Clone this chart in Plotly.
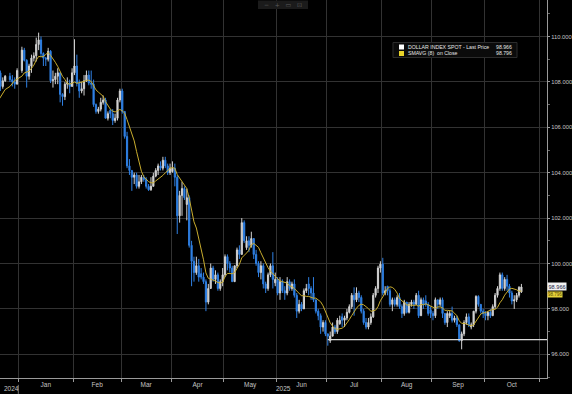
import pandas as pd
import plotly.graph_objects as go

# ---------------- data ----------------
dates = [
    # Dec 2024
    "2024-12-10", "2024-12-11", "2024-12-12", "2024-12-13", "2024-12-16", "2024-12-17", "2024-12-18", "2024-12-19",
    "2024-12-20", "2024-12-23", "2024-12-24", "2024-12-26", "2024-12-27", "2024-12-30", "2024-12-31",
    # Jan 2025
    "2025-01-02", "2025-01-03", "2025-01-06", "2025-01-07", "2025-01-08", "2025-01-09", "2025-01-10", "2025-01-13",
    "2025-01-14", "2025-01-15", "2025-01-16", "2025-01-17", "2025-01-20", "2025-01-21", "2025-01-22", "2025-01-23",
    "2025-01-24", "2025-01-27", "2025-01-28", "2025-01-29", "2025-01-30", "2025-01-31",
    # Feb
    "2025-02-03", "2025-02-04", "2025-02-05", "2025-02-06", "2025-02-07", "2025-02-10", "2025-02-11", "2025-02-12",
    "2025-02-13", "2025-02-14", "2025-02-17", "2025-02-18", "2025-02-19", "2025-02-20", "2025-02-21", "2025-02-24",
    "2025-02-25", "2025-02-26", "2025-02-27", "2025-02-28",
    # Mar
    "2025-03-03", "2025-03-04", "2025-03-05", "2025-03-06", "2025-03-07", "2025-03-10", "2025-03-11", "2025-03-12",
    "2025-03-13", "2025-03-14", "2025-03-17", "2025-03-18", "2025-03-19", "2025-03-20", "2025-03-21", "2025-03-24",
    "2025-03-25", "2025-03-26", "2025-03-27", "2025-03-28", "2025-03-31",
    # Apr
    "2025-04-01", "2025-04-02", "2025-04-03", "2025-04-04", "2025-04-07", "2025-04-08", "2025-04-09", "2025-04-10",
    "2025-04-11", "2025-04-14", "2025-04-15", "2025-04-16", "2025-04-17", "2025-04-18", "2025-04-21", "2025-04-22",
    "2025-04-23", "2025-04-24", "2025-04-25", "2025-04-28", "2025-04-29", "2025-04-30",
    # May
    "2025-05-01", "2025-05-02", "2025-05-05", "2025-05-06", "2025-05-07", "2025-05-08", "2025-05-09", "2025-05-12",
    "2025-05-13", "2025-05-14", "2025-05-15", "2025-05-16", "2025-05-19", "2025-05-20", "2025-05-21", "2025-05-22",
    "2025-05-23", "2025-05-26", "2025-05-27", "2025-05-28", "2025-05-29", "2025-05-30",
    # Jun
    "2025-06-02", "2025-06-03", "2025-06-04", "2025-06-05", "2025-06-06", "2025-06-09", "2025-06-10", "2025-06-11",
    "2025-06-12", "2025-06-13", "2025-06-16", "2025-06-17", "2025-06-18", "2025-06-19", "2025-06-20", "2025-06-23",
    "2025-06-24", "2025-06-25", "2025-06-26", "2025-06-27", "2025-06-30",
    # Jul
    "2025-07-01", "2025-07-02", "2025-07-03", "2025-07-04", "2025-07-07", "2025-07-08", "2025-07-09", "2025-07-10",
    "2025-07-11", "2025-07-14", "2025-07-15", "2025-07-16", "2025-07-17", "2025-07-18", "2025-07-21", "2025-07-22",
    "2025-07-23", "2025-07-24", "2025-07-25", "2025-07-28", "2025-07-29", "2025-07-30", "2025-07-31",
    # Aug
    "2025-08-01", "2025-08-04", "2025-08-05", "2025-08-06", "2025-08-07", "2025-08-08", "2025-08-11", "2025-08-12",
    "2025-08-13", "2025-08-14", "2025-08-15", "2025-08-18", "2025-08-19", "2025-08-20", "2025-08-21", "2025-08-22",
    "2025-08-25", "2025-08-26", "2025-08-27", "2025-08-28", "2025-08-29",
    # Sep
    "2025-09-01", "2025-09-02", "2025-09-03", "2025-09-04", "2025-09-05", "2025-09-08", "2025-09-09", "2025-09-10",
    "2025-09-11", "2025-09-12", "2025-09-15", "2025-09-16", "2025-09-17", "2025-09-18", "2025-09-19", "2025-09-22",
    "2025-09-23", "2025-09-24", "2025-09-25", "2025-09-26", "2025-09-29", "2025-09-30",
    # Oct
    "2025-10-01", "2025-10-02", "2025-10-03", "2025-10-06", "2025-10-07", "2025-10-08", "2025-10-09", "2025-10-10",
    "2025-10-13", "2025-10-14", "2025-10-15", "2025-10-16", "2025-10-17", "2025-10-20", "2025-10-21", "2025-10-22",
]

opens = [
    106.1, 106.4, 106.7, 106.95, 107.0, 106.85, 106.95, 108.0, 108.4, 107.8, 108.05, 108.25, 108.1, 108.0, 107.9,
    108.5, 109.4, 108.95, 108.25, 108.7, 109.05, 109.15, 109.65, 109.85, 109.25, 109.05, 109.0, 109.35, 108.05, 108.1,
    108.25, 108.4, 107.45, 107.35, 107.9, 107.95, 107.8,
    108.4, 108.7, 107.95, 107.6, 107.7, 108.05, 108.3, 107.95, 107.9, 107.0, 106.7, 106.8, 107.1, 107.2, 106.4, 106.75,
    106.6, 106.3, 106.4, 107.2,
    107.6, 106.7, 105.6, 104.3, 104.1, 103.8, 103.9, 103.4, 103.6, 103.8, 103.7, 103.4, 103.25, 103.4, 103.85, 104.1,
    104.3, 104.2, 104.55, 104.3, 104.0,
    104.05, 104.2, 103.8, 102.1, 103.0, 103.3, 102.6, 102.9, 100.8, 100.1, 99.6, 99.9, 99.55, 99.4, 99.2, 98.3,
    98.9, 99.8, 99.3, 99.5, 98.9, 99.2,
    99.5, 100.3, 100.0, 99.8, 99.2, 99.9, 100.6, 100.4, 101.8, 100.7, 101.0, 100.8, 101.1, 100.4, 100.0, 99.6,
    99.9, 99.1, 98.9, 99.5, 99.9, 99.15,
    99.3, 98.7, 99.2, 98.8, 98.7, 99.2, 98.9, 99.1, 98.6, 97.9, 98.2, 98.0, 98.8, 99.1, 98.9, 98.7,
    98.4, 97.9, 97.7, 97.2, 97.4,
    96.9, 96.6, 96.8, 97.2, 97.0, 97.35, 97.65, 97.5, 97.6, 97.85, 98.1, 98.6, 98.4, 98.7, 98.5, 97.9,
    97.4, 97.2, 97.4, 97.65, 98.6, 98.9, 99.8,
    99.97, 98.7, 99.0, 98.8, 98.2, 98.4, 98.2, 98.5, 98.1, 97.8, 98.3, 97.85, 98.2, 98.3, 98.2, 98.6,
    97.7, 98.4, 98.35, 98.2, 97.95,
    97.8, 97.7, 98.4, 98.2, 98.4, 97.8, 97.4, 97.7, 97.8, 97.5, 97.6, 97.3, 96.6, 96.9, 97.4, 97.65,
    97.2, 97.3, 97.9, 98.55, 98.2, 97.9,
    97.8, 97.7, 97.85, 97.7, 98.1, 98.6, 98.9, 99.5, 98.9, 99.3, 99.0, 98.7, 98.35, 98.4, 98.6, 98.75,
]

highs = [
    106.6, 106.8, 107.1, 107.2, 107.0, 107.0, 108.1, 108.5, 108.5, 108.2, 108.3, 108.4, 108.3, 108.2, 108.6,
    109.55, 109.5, 109.0, 108.8, 109.2, 109.3, 109.95, 110.17, 110.0, 109.3, 109.1, 109.5, 109.4, 108.5, 108.4,
    108.6, 108.4, 107.5, 108.0, 108.2, 108.1, 108.6,
    109.88, 109.2, 108.1, 108.0, 108.3, 108.5, 108.5, 108.5, 108.1, 107.05, 106.9, 107.3, 107.4, 107.3, 106.7, 106.8,
    106.8, 106.6, 107.3, 107.7,
    107.7, 106.7, 105.8, 104.6, 104.1, 104.0, 104.0, 103.9, 103.9, 103.9, 103.8, 103.5, 103.8, 104.0, 104.2, 104.4,
    104.5, 104.7, 104.7, 104.4, 104.4,
    104.5, 104.4, 103.9, 103.2, 103.6, 103.4, 103.3, 103.0, 101.0, 100.3, 100.3, 100.2, 99.8, 99.6, 99.3, 99.1,
    100.0, 99.9, 99.7, 99.6, 99.3, 99.8,
    100.4, 100.4, 100.1, 99.9, 99.9, 100.7, 100.8, 102.0, 101.9, 101.2, 101.2, 101.4, 101.1, 100.6, 100.1, 100.1,
    100.0, 99.2, 99.6, 100.0, 100.5, 99.6,
    99.4, 99.4, 99.3, 99.0, 99.4, 99.3, 99.2, 99.3, 98.7, 98.4, 98.3, 98.9, 99.1, 99.4, 99.0, 99.4,
    98.4, 98.0, 97.8, 97.5, 97.5,
    96.9, 97.0, 97.4, 97.3, 97.6, 97.7, 97.8, 97.7, 98.0, 98.2, 98.7, 98.95, 98.95, 98.8, 98.6, 98.0,
    97.6, 97.6, 97.8, 98.7, 99.0, 99.9, 100.1,
    100.25, 99.0, 99.0, 98.9, 98.5, 98.5, 98.6, 98.7, 98.2, 98.4, 98.3, 98.3, 98.4, 98.4, 98.7, 98.8,
    98.5, 98.5, 98.6, 98.3, 98.1,
    97.9, 98.5, 98.4, 98.5, 98.5, 97.8, 97.9, 97.9, 98.1, 97.7, 97.7, 97.3, 97.0, 97.5, 97.8, 97.8,
    97.4, 97.9, 98.6, 98.6, 98.2, 98.0,
    97.9, 97.9, 98.0, 98.2, 98.7, 99.0, 99.6, 99.6, 99.4, 99.5, 99.1, 98.8, 98.6, 98.7, 99.0, 99.1,
]

lows = [
    106.0, 106.3, 106.5, 106.8, 106.7, 106.8, 106.9, 108.0, 107.6, 107.7, 108.0, 108.0, 107.8, 107.7, 107.9,
    108.4, 108.9, 107.75, 108.1, 108.4, 108.9, 108.9, 109.4, 109.1, 108.7, 108.7, 108.9, 107.95, 107.75, 107.9,
    107.9, 107.1, 106.95, 107.2, 107.7, 107.5, 107.8,
    108.3, 107.8, 107.3, 107.5, 107.4, 108.0, 107.85, 107.7, 106.9, 106.6, 106.6, 106.7, 107.0, 106.4, 106.3, 106.4,
    106.1, 106.2, 106.3, 107.1,
    106.6, 105.5, 104.2, 103.9, 103.2, 103.5, 103.3, 103.3, 103.5, 103.6, 103.3, 103.2, 103.2, 103.4, 103.8, 103.9,
    104.1, 104.1, 104.2, 103.9, 103.9,
    104.0, 103.4, 101.3, 101.8, 102.1, 102.8, 101.9, 100.7, 99.0, 99.2, 99.5, 99.2, 99.3, 99.1, 97.9, 98.2,
    98.9, 99.2, 99.1, 98.8, 98.8, 99.0,
    99.4, 99.7, 99.6, 99.2, 99.2, 99.8, 100.2, 100.4, 100.9, 100.6, 100.5, 100.7, 100.2, 99.9, 99.4, 99.3,
    98.9, 98.7, 98.8, 99.4, 98.9, 99.0,
    98.6, 98.4, 98.7, 98.4, 98.6, 98.8, 98.8, 98.5, 97.6, 97.8, 97.9, 98.0, 98.7, 98.6, 98.4, 98.3,
    97.8, 97.5, 96.9, 97.0, 96.8,
    96.38, 96.5, 96.8, 96.9, 96.9, 97.3, 97.2, 97.2, 97.5, 97.8, 98.0, 97.7, 98.3, 98.3, 97.8, 97.3,
    97.1, 97.1, 97.3, 97.6, 98.5, 98.7, 99.6,
    98.6, 98.6, 98.6, 98.1, 97.9, 98.1, 98.1, 98.0, 97.6, 97.7, 97.8, 97.8, 98.1, 98.0, 98.2, 97.6,
    97.7, 98.0, 98.1, 97.7, 97.6,
    97.5, 97.6, 98.0, 98.1, 97.6, 97.3, 97.2, 97.6, 97.4, 97.4, 97.2, 96.55, 96.22, 96.8, 97.3, 97.2,
    97.1, 97.2, 97.8, 98.1, 97.8, 97.6,
    97.5, 97.5, 97.6, 97.7, 98.0, 98.5, 98.8, 98.8, 98.8, 98.8, 98.5, 98.2, 98.0, 98.3, 98.5, 98.7,
]

closes = [
    106.4, 106.7, 106.95, 107.0, 106.85, 106.95, 108.0, 108.4, 107.8, 108.05, 108.25, 108.1, 108.0, 107.9, 108.5,
    109.4, 108.95, 108.25, 108.7, 109.05, 109.15, 109.65, 109.85, 109.25, 109.05, 109.0, 109.35, 108.05, 108.1,
    108.25, 108.4, 107.45, 107.35, 107.9, 107.95, 107.8, 108.4,
    108.7, 107.95, 107.6, 107.7, 108.05, 108.3, 107.95, 107.9, 107.0, 106.7, 106.8, 107.1, 107.2, 106.4, 106.6, 106.6,
    106.3, 106.4, 107.2, 107.6,
    106.7, 105.6, 104.3, 104.1, 103.8, 103.9, 103.4, 103.6, 103.8, 103.7, 103.4, 103.25, 103.4, 103.85, 104.1, 104.3,
    104.2, 104.55, 104.3, 104.0, 104.2,
    104.2, 103.8, 102.1, 103.0, 103.3, 102.9, 102.9, 100.8, 100.1, 99.6, 99.9, 99.4, 99.4, 99.2, 98.3, 98.9,
    99.8, 99.3, 99.5, 98.9, 99.2, 99.5,
    100.3, 100.0, 99.8, 99.2, 99.9, 100.6, 100.4, 101.8, 101.0, 101.0, 100.8, 101.1, 100.4, 100.0, 99.6, 99.9,
    99.1, 98.9, 99.5, 99.9, 99.3, 99.3,
    98.7, 99.2, 98.8, 98.7, 99.2, 98.9, 99.1, 98.6, 97.9, 98.2, 98.0, 98.8, 98.9, 98.9, 98.7, 98.4,
    97.9, 97.7, 97.2, 97.4, 96.9,
    96.8, 96.8, 97.2, 97.0, 97.5, 97.5, 97.5, 97.6, 97.85, 98.1, 98.6, 98.4, 98.7, 98.5, 97.9, 97.4,
    97.2, 97.4, 97.65, 98.6, 98.9, 99.8, 99.97,
    98.7, 98.8, 98.8, 98.2, 98.4, 98.2, 98.5, 98.1, 97.8, 98.3, 97.85, 98.2, 98.3, 98.2, 98.6, 97.7,
    98.4, 98.2, 98.2, 97.8, 97.8,
    97.7, 98.4, 98.2, 98.4, 97.8, 97.4, 97.8, 97.8, 97.5, 97.6, 97.3, 96.6, 96.9, 97.4, 97.65, 97.3,
    97.3, 97.9, 98.55, 98.2, 97.9, 97.8,
    97.7, 97.85, 97.7, 98.1, 98.6, 98.9, 99.5, 98.9, 99.3, 99.0, 98.7, 98.35, 98.4, 98.6, 98.95, 98.966,
]

sma_window = 8
support_level = 96.65
support_start = "2025-07-01 12:00"
last_price_text = "98.966"
sma_last_text = "98.796"
series_name = "DOLLAR INDEX SPOT - Last Price"
sma_name = "SMAVG (8)  on Close"

y_ticks = [96, 98, 100, 102, 104, 106, 108, 110]
month_starts = ["2025-01-01", "2025-02-03", "2025-03-03", "2025-04-01", "2025-05-01", "2025-06-02",
                "2025-07-01", "2025-08-01", "2025-09-01", "2025-10-01", "2025-11-03"]
month_labels = ["Jan", "Feb", "Mar", "Apr", "May", "Jun", "Jul", "Aug", "Sep", "Oct"]
month_label_pos = ["2025-01-16 12:00", "2025-02-17 00:00", "2025-03-17 12:00", "2025-04-16 00:00",
                   "2025-05-16 00:00", "2025-06-16 12:00", "2025-07-16 12:00", "2025-08-15 12:00",
                   "2025-09-16 00:00", "2025-10-16 12:00"]
x_range = ["2024-12-20 08:10", "2025-11-06 05:00"]
y_range = [94.956, 111.608]

# ---------------- styling ----------------
UP = "#d2d2d2"
DOWN = "#2f80e4"
SMA_COL = "#c9ad2e"
GRID = "#323232"
AXIS = "#9a9a9a"
TXT = "#c4c4c4"
FONT = "Liberation Sans"

x = pd.to_datetime(pd.Series(dates)) + pd.Timedelta(hours=12)
sma = pd.Series(closes).rolling(sma_window).mean()

fig = go.Figure()
fig.add_trace(go.Candlestick(
    x=x, open=opens, high=highs, low=lows, close=closes,
    increasing=dict(line=dict(color=UP, width=1), fillcolor=UP),
    decreasing=dict(line=dict(color=DOWN, width=1), fillcolor=DOWN),
    whiskerwidth=0, showlegend=False, hoverinfo="skip",
))
fig.add_trace(go.Scatter(
    x=x, y=sma, mode="lines", line=dict(color=SMA_COL, width=1),
    showlegend=False, hoverinfo="skip",
))
fig.add_trace(go.Scatter(
    x=[support_start, x_range[1]], y=[support_level, support_level], mode="lines",
    line=dict(color="#d9d9d9", width=1.2), showlegend=False, hoverinfo="skip",
))

W, H = 572, 394
ML, MR, MT, MB = 0, 25, 0, 16
PW, PH = W - ML - MR, H - MT - MB


def px(xp):
    return xp / PW


def py(yp):
    return 1 - yp / PH


shapes = [
    # legend box
    dict(type="rect", xref="paper", yref="paper", x0=px(393), x1=px(517), y0=py(57.5), y1=py(42.5),
         fillcolor="#0b0b0b", line=dict(color="#2c2c2c", width=1), layer="above"),
    dict(type="rect", xref="paper", yref="paper", x0=px(399), x1=px(404), y0=py(49.5), y1=py(44.5),
         fillcolor="#ffffff", line=dict(width=0), layer="above"),
    dict(type="rect", xref="paper", yref="paper", x0=px(399), x1=px(404), y0=py(56), y1=py(51),
         fillcolor="#e8d32a", line=dict(width=0), layer="above"),
    # toolbar at the top
    dict(type="rect", xref="paper", yref="paper", x0=px(258), x1=px(308), y0=py(9), y1=py(0.5),
         fillcolor="#1b1b1b", line=dict(width=0), layer="above"),
    # year separator tick
    dict(type="line", xref="x", yref="paper", x0="2025-01-01", x1="2025-01-01", y0=-0.018, y1=-0.042,
         line=dict(color="#777777", width=1)),
]

annotations = [
    dict(xref="paper", yref="paper", x=px(406), y=py(46.8), text=series_name, showarrow=False,
         xanchor="left", yanchor="middle", font=dict(family=FONT, size=5.2, color="#e6e6e6")),
    dict(xref="paper", yref="paper", x=px(514), y=py(46.8), text=last_price_text, showarrow=False,
         xanchor="right", yanchor="middle", font=dict(family=FONT, size=5.2, color="#e6e6e6")),
    dict(xref="paper", yref="paper", x=px(406), y=py(53.4), text=sma_name, showarrow=False,
         xanchor="left", yanchor="middle", font=dict(family=FONT, size=5.2, color="#e6e6e6")),
    dict(xref="paper", yref="paper", x=px(514), y=py(53.4), text=sma_last_text, showarrow=False,
         xanchor="right", yanchor="middle", font=dict(family=FONT, size=5.2, color="#e6e6e6")),
    # price tags on the right axis (yellow tag sits just under the white one)
    dict(xref="paper", yref="y", x=1.0, y=float(sma_last_text), text=sma_last_text, showarrow=False,
         xanchor="left", yanchor="top", bgcolor="#e6d23a", borderpad=0,
         font=dict(family=FONT, size=4.5, color="#5a4a00")),
    dict(xref="paper", yref="y", x=1.0, y=float(last_price_text), text=last_price_text, showarrow=False,
         xanchor="left", yanchor="middle", bgcolor="#f2f2f2", borderpad=0.5,
         font=dict(family=FONT, size=5.6, color="#222244")),
    # toolbar glyphs
    dict(xref="paper", yref="paper", x=px(283), y=py(4.8), text="−   +   ▭   ⊡", showarrow=False,
         xanchor="center", yanchor="middle", font=dict(family="DejaVu Sans", size=6, color="#5c5c5c")),
    # years
    dict(xref="paper", yref="paper", x=px(2), y=py(388.5), text="2024", showarrow=False,
         xanchor="left", yanchor="middle", font=dict(family=FONT, size=6.5, color=TXT)),
    dict(xref="paper", yref="paper", x=px(283), y=py(388.5), text="2025", showarrow=False,
         xanchor="center", yanchor="middle", font=dict(family=FONT, size=6.5, color=TXT)),
]

fig.update_layout(
    width=W, height=H,
    margin=dict(l=ML, r=MR, t=MT, b=MB, autoexpand=False),
    paper_bgcolor="#000000", plot_bgcolor="#000000",
    showlegend=False,
    shapes=shapes, annotations=annotations,
    xaxis=dict(
        type="date", range=x_range,
        rangebreaks=[dict(bounds=["sat", "mon"])],
        rangeslider=dict(visible=False),
        tickmode="array", tickvals=month_label_pos, ticktext=month_labels,
        ticks="", showgrid=False, ticklabelstandoff=0,
        tickfont=dict(family=FONT, size=6.5, color=TXT),
        showline=True, linecolor=AXIS, linewidth=1,
        minor=dict(tickmode="array", tickvals=month_starts, showgrid=True, gridcolor=GRID, gridwidth=1,
                   ticks="outside", ticklen=3, tickcolor=AXIS),
        zeroline=False, fixedrange=True,
    ),
    yaxis=dict(
        side="right", range=y_range,
        tickmode="array", tickvals=y_ticks, tickformat=".3f",
        ticks="outside", ticklen=2, tickcolor=AXIS, ticklabelstandoff=0,
        tickfont=dict(family=FONT, size=5.8, color=TXT),
        showgrid=True, gridcolor=GRID, gridwidth=1,
        showline=True, linecolor=AXIS, linewidth=1,
        minor=dict(dtick=1, ticks="outside", ticklen=2, tickcolor="#666666", showgrid=False),
        zeroline=False, fixedrange=True,
    ),
)

fig.write_html(
    "out.html",
    config={"displayModeBar": False},
    post_script="document.body.style.margin='0px';document.body.style.padding='0px';"
                "document.body.style.background='#000000';",
)
